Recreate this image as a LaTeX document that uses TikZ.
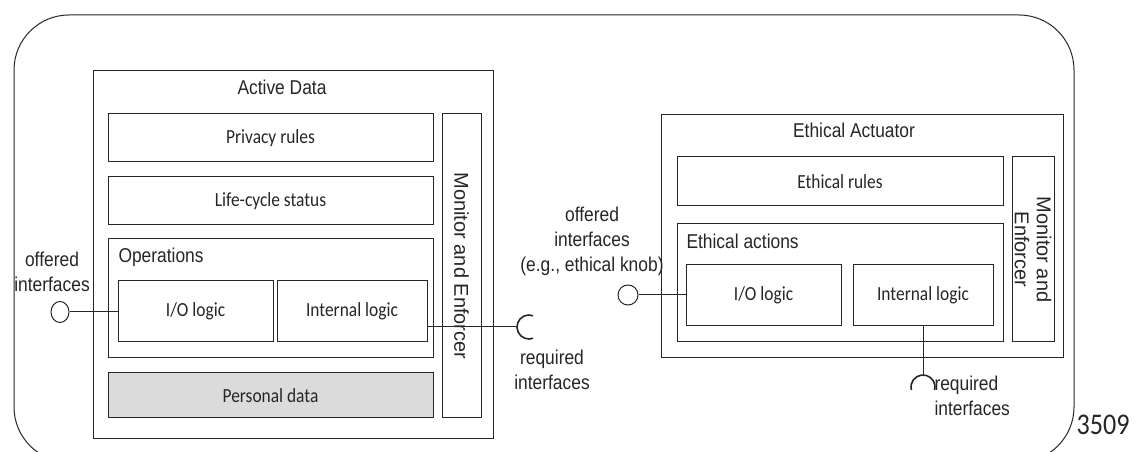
\documentclass[tikz,border=0pt]{standalone}
\usepackage{fontspec}
\usetikzlibrary{shapes.geometric}
\newfontfamily\arialsf{Liberation Sans}[FakeStretch=0.87]
\newfontfamily\arialup{Liberation Sans}
\newfontfamily\calsf{Carlito}[FakeStretch=0.87]
\begin{document}
\begin{tikzpicture}[x=1pt, y=1pt, line width=1pt, color=black!85,
  box/.style={draw, rectangle, inner sep=0pt, font=\calsf\fontsize{20}{25}\selectfont},
  lbl/.style={inner sep=0pt, align=center, font=\arialsf\fontsize{20}{25}\selectfont},
  vlbl/.style={inner sep=0pt, align=center, rotate=-90, font=\arialup\fontsize{20}{22}\selectfont},
  port/.style={draw, ellipse, inner sep=0pt, minimum width=18pt, minimum height=21pt}]
\useasboundingbox (0,0) rectangle (1138,452);
\clip (0,0) rectangle (1138,452);

%% system boundary
\draw[rounded corners=55pt] (14,-10) rectangle (1074,437);

%% active data component
\node[box, minimum width=400pt, minimum height=368pt] (ad) at (293,197) {};
\node[lbl] (adtitle) at (282,365) {Active Data};
\node[box, minimum width=325pt, minimum height=48pt] (privacy) at (270.5,314) {Privacy rules};
\node[box, minimum width=325pt, minimum height=48pt] (lifecycle) at (270.5,251) {Life-cycle status};
\node[box, minimum width=325pt, minimum height=119pt] (ops) at (270.5,153.5) {};
\node[lbl, anchor=west] (opstitle) at (118,195) {Operations};
\node[box, minimum width=155pt, minimum height=61pt] (io1) at (195.5,140.5) {I/O logic};
\node[box, minimum width=150pt, minimum height=61pt] (int1) at (352,140.5) {Internal logic};
\node[box, fill=black!14, minimum width=325pt, minimum height=45pt] (personal) at (270.5,56.5) {Personal data};
\node[box, minimum width=39pt, minimum height=304pt] (mon1) at (461.5,186) {};
\node[vlbl] (mon1text) at (mon1) {Monitor and Enforcer};

%% its interfaces
\node[port] (off1) at (60,140) {};
\node[lbl] (off1text) at (52,180) {offered\\interfaces};
\draw (off1.east) -- (off1.east -| io1.west);
\coordinate (req1) at (529,125);
\draw ([yshift=-15.5pt]int1.east) -- ([xshift=-12pt]req1);
\draw[line width=1.6pt] ([shift={(70:12pt)}]req1) arc[start angle=70, end angle=290, radius=12pt];
\node[lbl] (req1text) at (552,82) {required\\interfaces};

%% ethical actuator component
\node[box, minimum width=402pt, minimum height=243pt] (ea) at (862,215.5) {};
\node[lbl] (eatitle) at (854,322) {Ethical Actuator};
\node[box, minimum width=326pt, minimum height=49pt] (erules) at (840,270.5) {Ethical rules};
\node[box, minimum width=326pt, minimum height=118pt] (eact) at (840,169) {};
\node[lbl, anchor=west] (eacttitle) at (686,211) {Ethical actions};
\node[box, minimum width=155pt, minimum height=61pt] (io2) at (763.5,156.5) {I/O logic};
\node[box, minimum width=140pt, minimum height=61pt] (int2) at (923,156.5) {Internal logic};
\node[box, minimum width=42pt, minimum height=185pt] (mon2) at (1033,202.5) {};
\node[vlbl] (mon2text) at (mon2) {Monitor and\\Enforcer};

%% its interfaces
\node[port, minimum width=20pt, minimum height=20pt] (off2) at (628,157) {};
\node[lbl] (off2text) at (592,211) {offered\\interfaces\\(e.g., ethical knob)};
\draw (off2.east) -- (off2.east -| io2.west);
\coordinate (req2) at (923,65);
\draw (int2.south) -- ([yshift=12pt]req2);
\draw[line width=1.6pt] ([shift={(-15:12pt)}]req2) arc[start angle=-15, end angle=195, radius=12pt];
\node[lbl, anchor=west, align=left] (req2text) at (934,56) {required\\interfaces};

\node[inner sep=0pt, font=\calsf\fontsize{30}{30}\selectfont] (fignum) at (1103,27) {3509};
\end{tikzpicture}
\end{document}
